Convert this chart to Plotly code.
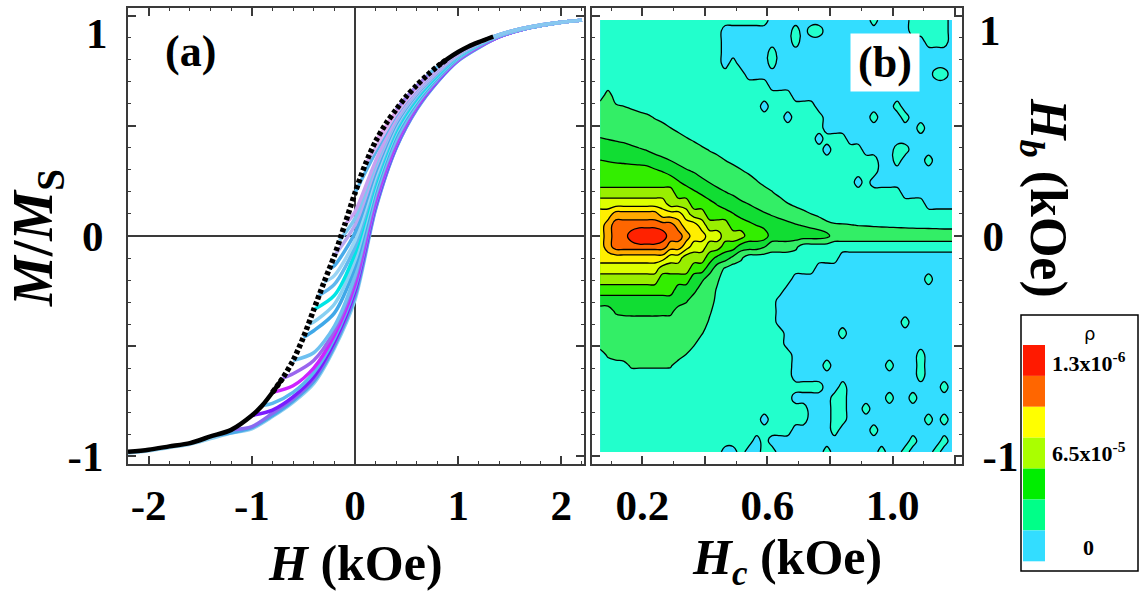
import plotly.graph_objects as go

FIG_W, FIG_H = 1141, 598

# ---------------- Panel (a): hysteresis data ----------------
# descending major branch (black dotted curve)
MAJOR_H = [-2.2, -2.0, -1.8, -1.6, -1.4, -1.2, -1.0, -0.9, -0.8, -0.7, -0.6, -0.5, -0.4,
           -0.3, -0.2, -0.1, 0.0, 0.1, 0.2, 0.3, 0.4, 0.5, 0.6, 0.7, 0.8, 0.9, 1.0, 1.1,
           1.2, 1.34]
MAJOR_M = [-0.98, -0.97, -0.955, -0.94, -0.91, -0.88, -0.815, -0.77, -0.71, -0.645, -0.565,
           -0.46, -0.335, -0.21, -0.09, 0.05, 0.195, 0.325, 0.43, 0.51, 0.575, 0.635, 0.685,
           0.73, 0.77, 0.805, 0.835, 0.86, 0.88, 0.905]

# first-order reversal curves: M at the reversal field, then at the H_GRID points above it
H_GRID = [-2.2, -2.0, -1.8, -1.6, -1.4, -1.2, -1.0, -0.8, -0.6, -0.4, -0.2, 0.0, 0.2, 0.4,
          0.6, 0.8, 1.0, 1.2, 1.4, 1.6, 1.8, 2.0, 2.2]
FORC_HR = [-2.2, -1.4, -1.2, -1.0, -0.9, -0.8, -0.7, -0.6, -0.5, -0.45, -0.4, -0.35, -0.3,
           -0.25, -0.2, -0.15, -0.1, 0.0, 0.1, 0.2, 0.4, 0.7, 1.0]
FORC_M = [
    [-0.985, -0.975, -0.96, -0.945, -0.92, -0.895, -0.875, -0.82, -0.755, -0.67, -0.51, -0.29, 0.12, 0.40, 0.575, 0.70, 0.795, 0.855, 0.905, 0.935, 0.955, 0.97, 0.98],
    [-0.91, -0.893, -0.87, -0.815, -0.748, -0.66, -0.50, -0.275, 0.125, 0.40, 0.577, 0.70, 0.796, 0.856, 0.905, 0.935, 0.955, 0.97, 0.98],
    [-0.88, -0.865, -0.805, -0.74, -0.65, -0.49, -0.262, 0.132, 0.405, 0.58, 0.702, 0.798, 0.858, 0.905, 0.935, 0.955, 0.97, 0.98],
    [-0.815, -0.79, -0.73, -0.64, -0.48, -0.25, 0.14, 0.41, 0.585, 0.705, 0.80, 0.86, 0.905, 0.935, 0.955, 0.97, 0.98],
    [-0.77, -0.76, -0.71, -0.62, -0.465, -0.235, 0.15, 0.415, 0.588, 0.708, 0.80, 0.86, 0.905, 0.935, 0.955, 0.97, 0.98],
    [-0.71, -0.68, -0.60, -0.45, -0.22, 0.16, 0.42, 0.59, 0.71, 0.80, 0.86, 0.905, 0.935, 0.955, 0.97, 0.98],
    [-0.645, -0.625, -0.565, -0.43, -0.20, 0.175, 0.43, 0.595, 0.712, 0.802, 0.862, 0.906, 0.935, 0.955, 0.97, 0.98],
    [-0.565, -0.53, -0.41, -0.18, 0.19, 0.44, 0.60, 0.715, 0.805, 0.865, 0.908, 0.936, 0.955, 0.97, 0.98],
    [-0.46, -0.43, -0.35, -0.14, 0.21, 0.46, 0.61, 0.72, 0.81, 0.868, 0.91, 0.937, 0.956, 0.97, 0.98],
    [-0.40, -0.39, -0.31, -0.11, 0.225, 0.47, 0.617, 0.725, 0.812, 0.869, 0.91, 0.937, 0.956, 0.97, 0.98],
    [-0.335, -0.27, -0.08, 0.24, 0.48, 0.625, 0.73, 0.815, 0.87, 0.91, 0.938, 0.956, 0.97, 0.98],
    [-0.27, -0.22, -0.05, 0.255, 0.49, 0.632, 0.735, 0.817, 0.871, 0.91, 0.938, 0.956, 0.97, 0.98],
    [-0.21, -0.18, -0.02, 0.27, 0.50, 0.64, 0.74, 0.82, 0.872, 0.911, 0.938, 0.956, 0.97, 0.98],
    [-0.15, -0.135, 0.015, 0.29, 0.51, 0.645, 0.742, 0.821, 0.873, 0.911, 0.938, 0.956, 0.97, 0.98],
    [-0.09, 0.05, 0.31, 0.52, 0.65, 0.745, 0.822, 0.874, 0.912, 0.939, 0.957, 0.97, 0.98],
    [-0.02, 0.08, 0.325, 0.527, 0.655, 0.748, 0.823, 0.875, 0.912, 0.939, 0.957, 0.97, 0.98],
    [0.05, 0.11, 0.34, 0.535, 0.66, 0.75, 0.825, 0.876, 0.913, 0.939, 0.957, 0.97, 0.98],
    [0.195, 0.38, 0.55, 0.668, 0.757, 0.828, 0.877, 0.913, 0.94, 0.957, 0.97, 0.98],
    [0.325, 0.40, 0.557, 0.672, 0.76, 0.83, 0.877, 0.913, 0.94, 0.957, 0.97, 0.98],
    [0.43, 0.565, 0.677, 0.764, 0.831, 0.878, 0.914, 0.94, 0.958, 0.97, 0.98],
    [0.575, 0.682, 0.767, 0.833, 0.879, 0.914, 0.94, 0.958, 0.97, 0.98],
    [0.73, 0.768, 0.834, 0.879, 0.914, 0.94, 0.958, 0.97, 0.98],
    [0.835, 0.879, 0.914, 0.94, 0.958, 0.97, 0.98],
]
FORC_COLORS = ["#8ECFF0", "#4AA8E8", "#8A6AF0", "#7A1CFF", "#5AB8EE", "#CC22FF", "#9A66EE",
               "#6EC0F0", "#40A8E8", "#88D0F2", "#00E5E5", "#60B8EE", "#9AD4F4", "#48ACEA",
               "#B8A8F0", "#7CC8F0", "#C8A0F0", "#56B4EC", "#D8B0F2", "#E0A8F0", "#A080F0",
               "#60C0F0", "#88C8F0"]

# ---------------- Panel (b): FORC distribution levels ----------------
HC_START, HC_STEP, HC_N = 0.065, 0.025, 46
HB_START, HB_STEP, HB_N = 0.98, -0.049, 41
# one row per Hb (top to bottom), run-length coded levels (0-9, A=10, B=11, or decimals)
RHO_ROWS = [
    "1*22 0*13 1 0*4 1*5 0",
    "1*16 0*9 1 0 1*2 0*11 1*5 0",
    "1*16 0*9 1 0*16 1*3 0",
    "1*16 0*6 1 0*23",
    "1*16 0 1 0*4 1 0*23",
    "1*19 0*24 1*2 0",
    "1*22 0*24",
    "1 2 1*23 0*21",
    "2 2 1.65 1.52 1.34 1*16 0 1*6 0*10 1 0*7",
    "2*6 1.71 1.42 1*16 0 1*4 0*6 1 0*3 1 0*6",
    "2*9 1.52 1.15 1*18 0*12 1 0*4",
    "2.56 2.47 2.36 2.22 2*7 1.59 1.33 1*15 0 1*3 0*14",
    "3*4 2.83 2.59 2.45 2.15 2*5 1.72 1.43 1*14 0 1*4 0*4 1*2 0*6",
    "3.52 3.44 3.36 3.3 3.22 3.15 3 3 2.72 2.49 2.17 2*5 1.51 1.18 1*18 0*2 1 0*3 1 0*3",
    "4*7 3.63 3.47 3.18 3 2.63 2.43 2*5 1.61 1.32 1*16 0*10",
    "4*10 3.57 3.23 3 2.83 2.46 2*5 1.6 1.18 1*11 0 1 0*11",
    "5*10 4*2 3.65 3.38 3*2 2.56 2.34 2*4 1.58 1.15 1*15 0*7",
    "6*9 5*3 4*2 3.76 3.41 3*2 2.72 2.47 2.1 2*3 1.52 1.29 1*16 0*4",
    "7*2 8*6 7*3 6 5*2 4*3 3.56 3.24 3*2 2.62 2.43 2.18 2*2 1.82 1.53 1.31 1*17",
    "7 8 9*8 8 7*2 6 5*3 4*2 3.74 3.49 3.22 3*2 2.77 2.56 2.45 2.32 2.11 1.81 1.6 1.57 1.53 1.48 1.46 1.43 1.4 1.38 1.36 1.33 1.31 1.29 1.28 1.26 1.23 1.23",
    "7 8 9 9 A B B B A 9 9 8 7 7 6 6 5 5 5 4 4 4 3*7 2.79 2*16",
    "7 8 9*7 8*2 7 6*2 5*2 4*2 3*3 2.55 2*3 1.72 1*20",
    "7*9 6*2 5*3 4 3.26 3 2.28 1.71 1*12 0*15",
    "6*8 5*4 4*2 3 2 1.39 1*11 0*18",
    "5*8 4*4 3 2.71 2 1.64 1*9 0*17 1 0*3",
    "4*10 3*2 2.77 2*2 1.375 1*8 0*22",
    "3*11 2.62 2*3 1.15 1*7 0*23",
    "2 2 2.64 2.8 2.85*4 2.8 2.77 2*4 1.64 1*8 0*23",
    "2*14 1.35 1*8 0*16 1 0*6",
    "2*13 1.58 1*10 0*7 1 0*14",
    "2*12 1.61 1*11 0*22",
    "1 1.68 2*9 1.47 1*13 0*16 1 0*4",
    "1*3 1.15 1.66*5 1.62 1*15 0*4 1 0*7 1 0*3 1 0*4",
    "1*25 0*16 1 0*4",
    "1*29 0*2 1 0*12 1 0",
    "1*25 0*5 1*2 0*5 1 0*2 1 0*5",
    "1*27 0*3 1*2 0*2 1 0*11",
    "1*21 0 1*5 0*3 1*2 0*10 1 0 1 0",
    "1*25 0*5 1 0*4 1 0*10",
    "1*20 0 1 0*18 1 0*3 1 0",
    "1*16 0*2 1 0*2 1*2 0*6 1 0*6 1 0*2 1 0*3 1 0*2",
]
LEVEL_COLORS = ["#33DDFF", "#22FFCC", "#33EE66", "#11DD33", "#33EE00", "#99EE00",
                "#DDFF00", "#FFEE00", "#FFAA00", "#FF6600", "#FF2200"]

LEGEND_COLORS = ["#FF1A00", "#FF6600", "#FFFF00", "#AAFF00", "#00EE00", "#00FF88", "#33DDFF"]
LEGEND_TITLE = "ρ"
LEGEND_LABELS = ["1.3x10<sup>-6</sup>", "6.5x10<sup>-5</sup>", "0"]


def parse_val(v):
    return float(v) if "." in v else int(v, 16)


def decode_row(spec):
    vals = []
    for tok in spec.split():
        if "*" in tok:
            v, n = tok.split("*")
            vals += [parse_val(v)] * int(n)
        else:
            vals.append(parse_val(tok))
    assert len(vals) == HC_N, (spec, len(vals))
    return vals


hc = [round(HC_START + HC_STEP * i, 4) for i in range(HC_N)]
hb = [round(HB_START + HB_STEP * r, 4) for r in range(HB_N)]
z = [decode_row(s) for s in RHO_ROWS]
hb_inc = hb[::-1]
z_inc = z[::-1]

SERIF = "Liberation Serif"


def px(xp):
    return xp / FIG_W


def py(yp):
    return 1 - yp / FIG_H


fig = go.Figure()

# FORC curves
for hr, ms, col in zip(FORC_HR, FORC_M, FORC_COLORS):
    hs = [hr] + [h for h in H_GRID if h > hr + 1e-9]
    fig.add_trace(go.Scatter(x=hs, y=ms, mode="lines", xaxis="x", yaxis="y",
                             line=dict(color=col, width=3.5, shape="spline", smoothing=0.8),
                             hoverinfo="skip", showlegend=False))

# major branch: dense (solid-looking) ends and dotted middle
lo = [i for i, h in enumerate(MAJOR_H) if h <= -0.7]
hi = [i for i, h in enumerate(MAJOR_H) if h >= 0.8]
for idx in (lo, hi):
    fig.add_trace(go.Scatter(x=[MAJOR_H[i] for i in idx], y=[MAJOR_M[i] for i in idx],
                             mode="lines", xaxis="x", yaxis="y",
                             line=dict(color="black", width=4.5, shape="spline", smoothing=0.8),
                             hoverinfo="skip", showlegend=False))
mid = [i for i, h in enumerate(MAJOR_H) if -0.8 <= h <= 0.9]
fig.add_trace(go.Scatter(x=[MAJOR_H[i] for i in mid], y=[MAJOR_M[i] for i in mid],
                         mode="lines", xaxis="x", yaxis="y",
                         line=dict(color="black", width=5.5, dash="4px,2.5px", shape="spline", smoothing=0.8),
                         hoverinfo="skip", showlegend=False))

# FORC distribution contour
fig.add_trace(go.Contour(
    x=hc, y=hb_inc, z=z_inc, xaxis="x2", yaxis="y2",
    autocontour=False,
    contours=dict(start=0.5, end=9.5, size=1, coloring="fill", showlines=True),
    colorscale=[[k / 10, LEVEL_COLORS[k]] for k in range(11)],
    line=dict(color="black", width=1.3, smoothing=1.1),
    showscale=False, hoverinfo="skip"))

tick_font = dict(family=SERIF, size=43, color="black", weight="bold")
axis_common = dict(showline=True, linecolor="#3a3a3a", linewidth=2, mirror="allticks",
                   ticks="inside", ticklen=8, tickwidth=1.5, tickcolor="#3a3a3a",
                   showgrid=False, automargin=False, tickfont=tick_font)
minor_common = dict(ticks="inside", ticklen=3, tickwidth=1, tickcolor="#3a3a3a")

ydom = [1 - 464 / FIG_H, 1 - 8 / FIG_H]
fig.update_layout(
    width=FIG_W, height=FIG_H, margin=dict(l=0, r=0, t=0, b=0, pad=0),
    paper_bgcolor="white", plot_bgcolor="white", showlegend=False,
    xaxis=dict(domain=[128 / FIG_W, 584 / FIG_W], range=[-2.2, 2.22], anchor="y",
               tickvals=[-2, -1, 0, 1, 2], ticktext=["-2", "-1", "0", "1", "2"],
               minor=dict(dtick=0.2, **minor_common),
               zeroline=True, zerolinecolor="#3a3a3a", zerolinewidth=1.5,
               ticklabelstandoff=2, **axis_common),
    yaxis=dict(domain=ydom, range=[-1.035, 1.035], anchor="x",
               tickvals=[-1, -0.5, 0, 0.5, 1], ticktext=["-1", "", "0", "", ""],
               minor=dict(dtick=0.1, **minor_common),
               zeroline=True, zerolinecolor="#3a3a3a", zerolinewidth=1.5,
               ticklabelstandoff=14, **axis_common),
    xaxis2=dict(domain=[592 / FIG_W, 962 / FIG_W], range=[0.039, 1.222], anchor="y2",
                tickvals=[0.2, 0.4, 0.6, 0.8, 1.0, 1.2], ticktext=["0.2", "", "0.6", "", "1.0", ""],
                minor=dict(dtick=0.1, **minor_common),
                zeroline=False, ticklabelstandoff=2, **axis_common),
    yaxis2=dict(domain=ydom, range=[-1.035, 1.035], anchor="x2", side="right",
                tickvals=[-1, -0.5, 0, 0.5, 1], ticktext=["-1", "", "0", "", ""],
                minor=dict(dtick=0.1, **minor_common),
                zeroline=False, ticklabelstandoff=10, **axis_common),
)

title_font = dict(family=SERIF, size=50, color="black")
annotations = [
    # top "1" labels sit just below the frame edge, as in the reference
    dict(x=px(97), y=py(34), text="1", font=tick_font),
    dict(x=px(990), y=py(31), text="1", font=tick_font),
    dict(x=px(190), y=py(52), text="<b>(a)</b>", font=dict(family=SERIF, size=44, color="black")),
    dict(x=px(885), y=py(62), text="<b>(b)</b>", font=dict(family=SERIF, size=44, color="black"),
         bgcolor="white", width=66, height=55),
    dict(x=px(355), y=py(563), text="<b><i>H</i> (kOe)</b>", font=title_font),
    dict(x=px(37), y=py(238), text="<b><i>M</i>/<i>M</i><sub>S</sub></b>",
         font=dict(family=SERIF, size=56, color="black"), textangle=-90),
    dict(x=px(787), y=py(561), text="<b><i>H</i><sub><i>c</i></sub> (kOe)</b>", font=title_font),
    dict(x=px(1045), y=py(198), text="<b><i>H</i><sub><i>b</i></sub> (kOe)</b>",
         font=dict(family=SERIF, size=52, color="black"), textangle=90),
    dict(x=px(1089), y=py(333), text=LEGEND_TITLE, font=dict(family="DejaVu Sans", size=18, color="black")),
    dict(x=px(1050), y=py(362), text="<b>" + LEGEND_LABELS[0] + "</b>", xanchor="left",
         font=dict(family=SERIF, size=22, color="black")),
    dict(x=px(1050), y=py(452), text="<b>" + LEGEND_LABELS[1] + "</b>", xanchor="left",
         font=dict(family=SERIF, size=22, color="black")),
    dict(x=px(1088), y=py(547), text="<b>" + LEGEND_LABELS[2] + "</b>",
         font=dict(family=SERIF, size=22, color="black")),
]
for a in annotations:
    a.setdefault("xref", "paper")
    a.setdefault("yref", "paper")
    a.setdefault("showarrow", False)
    a.setdefault("xanchor", "center")
    a.setdefault("yanchor", "middle")
fig.update_layout(annotations=annotations)

# legend box and swatches
shapes = [dict(type="rect", xref="paper", yref="paper", x0=px(1021), x1=px(1138), y0=py(571), y1=py(315),
               line=dict(color="black", width=1.5), fillcolor="white", layer="below")]
sw_top, sw_h = 345, 30.9
for k, col in enumerate(LEGEND_COLORS):
    shapes.append(dict(type="rect", xref="paper", yref="paper", x0=px(1023), x1=px(1045),
                       y0=py(sw_top + sw_h * (k + 1)), y1=py(sw_top + sw_h * k),
                       line=dict(width=0), fillcolor=col))
fig.update_layout(shapes=shapes)

fig.write_html("out.html")
